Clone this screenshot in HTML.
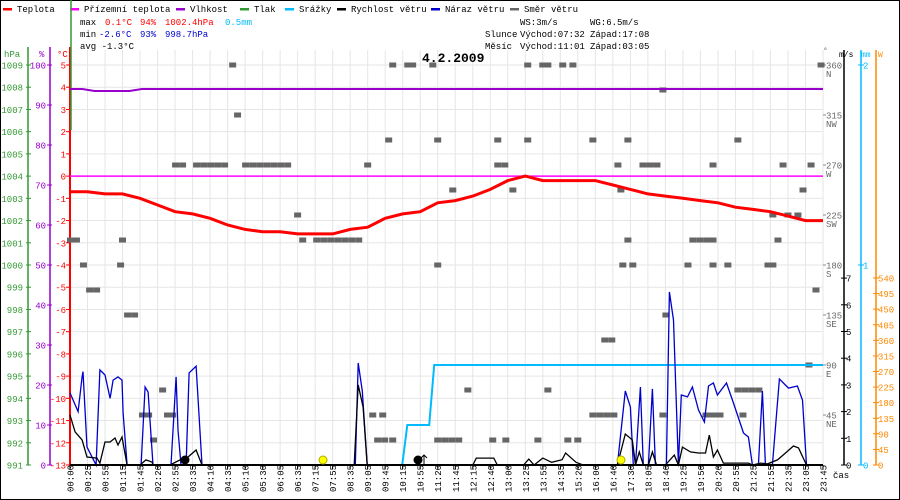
<!DOCTYPE html>
<html><head><meta charset="utf-8"><style>
html,body{margin:0;padding:0;background:#fff;}
svg{display:block;font-family:"Liberation Mono","DejaVu Sans Mono",monospace;}
</style></head><body>
<svg id="chart" width="900" height="500" viewBox="0 0 900 500" xmlns="http://www.w3.org/2000/svg">
<rect x="0.5" y="0.5" width="899" height="499" fill="#fff" stroke="#000"/>
<g id="grid"></g>
<g id="legend" font-size="9"></g>
<g font-size="9">
<text x="80" y="25" fill="#000">max</text><text x="105" y="25" fill="#f00">0.1°C</text><text x="140" y="25" fill="#f00">94%</text><text x="165" y="25" fill="#f00">1002.4hPa</text><text x="225" y="25" fill="#0bf">0.5mm</text>
<text x="80" y="37" fill="#000">min</text><text x="99" y="37" fill="#00c">-2.6°C</text><text x="140" y="37" fill="#00c">93%</text><text x="165" y="37" fill="#00c">998.7hPa</text>
<text x="80" y="49" fill="#000">avg -1.3°C</text>
<text x="520" y="25">WS:3m/s</text><text x="590" y="25">WG:6.5m/s</text>
<text x="485" y="37">Slunce</text><text x="520" y="37">Východ:07:32</text><text x="590" y="37">Západ:17:08</text>
<text x="485" y="49">Měsíc</text><text x="520" y="49">Východ:11:01</text><text x="590" y="49">Západ:03:05</text>
</g>
<text x="422" y="62" font-size="13" font-weight="bold">4.2.2009</text>
<g id="axes" font-size="9"></g>
<g id="series"></g>
<g id="xlabels" font-size="9"></g>
</svg>
<script>
const timeLabels=["00:00","00:25","00:55","01:15","01:45","02:20","02:55","03:35","04:10","04:35","05:10","05:30","06:05","06:35","07:15","07:55","08:35","09:05","09:45","10:15","10:55","11:20","11:45","12:15","12:40","13:00","13:25","13:55","14:35","15:20","16:00","16:40","17:30","18:05","18:40","19:25","19:50","20:20","20:55","21:25","21:55","22:35","23:05","23:45"];
const tempValues=[-0.7,-0.7,-0.8,-0.8,-1.0,-1.3,-1.6,-1.7,-1.9,-2.2,-2.4,-2.5,-2.5,-2.6,-2.6,-2.6,-2.4,-2.3,-1.9,-1.7,-1.6,-1.2,-1.1,-0.9,-0.6,-0.2,0.0,-0.2,-0.2,-0.2,-0.2,-0.4,-0.6,-0.8,-0.9,-1.0,-1.1,-1.2,-1.4,-1.5,-1.6,-1.8,-2.0,-2.0];
const humSlots=[0,0.7,1.4,3.4,4.1,43];
const humValues=[94,94,93.5,93.5,94,94];
const groundTemp=[0,0];
const rainSlots=[0,18.97,19.26,20.51,20.8,43];
const rainValues=[0,0,0.2,0.2,0.5,0.5];
const gustSlots=[0,0.46,0.69,0.74,0.97,1.49,1.71,2.0,2.29,2.46,2.74,2.97,3.03,3.26,4.06,4.29,4.46,4.74,5.77,6.06,6.17,6.34,6.63,6.8,7.2,7.54,16.29,16.46,16.69,16.97,31.26,31.71,32.0,32.17,32.29,32.57,32.74,33.03,33.26,33.43,34.06,34.23,34.46,34.74,34.91,35.26,35.54,35.89,36.23,36.46,36.74,36.97,37.49,37.89,38.46,38.74,38.97,39.31,39.54,39.71,40.11,40.51,41.03,41.54,41.83,42.06,43];
const gustValues=[2.7,2.0,3.3,3.5,0.67,0,3.56,3.37,2.5,3.18,3.3,3.18,1.95,0,0,2.92,2.73,0,0,3.3,1.31,0,0,3.45,3.7,0,0,3.82,2.77,0,0,2.77,2.17,0,0,2.92,0,0,2.85,0,0,6.48,5.43,0,2.62,2.55,2.92,2.06,1.61,2.96,3.07,2.62,3.07,2.32,1.2,1.05,0,0,2.77,0,0,3.22,2.88,2.96,2.43,0,0];
const windSlots=[0,0.29,0.69,0.97,1.54,1.71,2.0,2.29,2.57,2.74,2.97,3.26,4.0,4.34,4.69,4.74,5.71,6.29,6.74,7.2,7.54,16.23,16.46,16.74,16.97,23.0,23.2,24.2,24.4,25.9,26.2,26.5,27.0,27.5,28.1,28.3,28.9,29.3,31.26,31.71,32.11,32.29,32.51,32.74,33.03,33.26,33.49,34.0,34.51,34.74,34.97,35.43,35.89,36.29,36.51,36.74,36.97,37.31,38.74,38.97,39.43,39.83,40.4,40.86,41.31,41.6,42.06,43];
const windValues=[1.87,1.24,0.94,0.3,0.26,0.07,0.86,0.86,1.01,0.75,1.05,0,0,0.19,0.11,0,0,0.19,0.3,0.56,0,0,3.0,2.17,0,0,0.26,0.26,0,0,0.22,0,0.26,0.1,0.2,0.45,0.1,0,0,1.16,0.94,0,0.49,0,0,0.49,0,0,0.37,0,0.67,0.49,0.45,0.45,1.12,0.3,0.56,0.07,0.07,0,0.07,0.04,0.19,0.45,0.71,0.64,0,0];
const dirSlots=[9.26,9.54,18.4,19.26,19.54,20.69,26.11,26.97,27.26,28.11,28.69,42.86,33.83,18.17,20.97,24.4,26.11,29.83,31.83,38.11,6,6.4,7.2,7.6,8,8.4,8.8,10,10.4,10.8,11.2,11.6,12,12.4,16.97,24.4,24.8,31.26,32.69,33.09,33.49,36.69,40.69,42.29,21.83,25.26,31.43,41.83,12.97,40.11,40.97,41.54,0,0.34,2.97,13.26,14.06,14.46,14.86,15.26,15.66,16.06,16.46,31.83,35.54,35.94,36.34,36.69,40.4,0.74,2.86,20.97,31.54,32.11,35.26,36.69,37.54,39.83,40.11,1.09,1.49,42.57,3.26,3.66,34.0,30.51,30.91,42.17,5.26,22.69,27.26,38.11,38.51,38.91,39.31,4.11,4.46,5.54,5.83,17.26,17.83,29.83,30.23,30.63,31.03,33.83,36.29,36.69,37.09,38.4,4.74,17.54,17.94,18.4,20.97,21.37,21.77,22.17,24.11,24.86,26.69,28.4,28.97];
const dirValues=[360,315,360,360,360,360,360,360,360,360,360,360,337.5,292.5,292.5,292.5,292.5,292.5,292.5,292.5,270,270,270,270,270,270,270,270,270,270,270,270,270,270,270,270,270,270,270,270,270,270,270,270,247.5,247.5,247.5,247.5,225,225,225,225,202.5,202.5,202.5,202.5,202.5,202.5,202.5,202.5,202.5,202.5,202.5,202.5,202.5,202.5,202.5,202.5,202.5,180,180,180,180,180,180,180,180,180,180,157.5,157.5,157.5,135,135,135,112.5,112.5,90,67.5,67.5,67.5,67.5,67.5,67.5,67.5,45,45,45,45,45,45,45,45,45,45,45,45,45,45,45,22.5,22.5,22.5,22.5,22.5,22.5,22.5,22.5,22.5,22.5,22.5,22.5,22.5];
const tempTicks=[5,4,3,2,1,0,-1,-2,-3,-4,-5,-6,-7,-8,-9,-10,-11,-12,-13];
const hpaTicks=[1009,1008,1007,1006,1005,1004,1003,1002,1001,1000,999,998,997,996,995,994,993,992,991];
const humTicks=[100,90,80,70,60,50,40,30,20,10,0];
const dirTicks=[360,315,270,225,180,135,90,45];
const dirNames=["N","NW","W","SW","S","SE","E","NE"];
const msTicks=[0,1,2,3,4,5,6,7];
const mmTicks=[0,1,2];
const wTicks=[0,45,90,135,180,225,270,315,360,405,450,495,540];

const NS='http://www.w3.org/2000/svg';
const X0=70,X1=823,Y0=65,Y1=465;
const xS=s=>X0+s*(X1-X0)/(timeLabels.length-1);
const yT=t=>Y0+(5-t)*(Y1-Y0)/18;
const yP=p=>Y0+(1009-p)*(Y1-Y0)/18;
const yH=h=>Y0+(100-h)*(Y1-Y0)/100;
const yD=d=>Y1-d*(Y1-Y0)/360;
const yMS=v=>Y1-v*26.7;
const yMM=v=>Y1-v*(Y1-Y0)/2;
const yW=v=>Y1-v*(187/540);
function mk(tag,attrs,parent,txt){const e=document.createElementNS(NS,tag);for(const k in attrs)e.setAttribute(k,attrs[k]);if(txt!==undefined)e.textContent=txt;parent.appendChild(e);return e;}
const grid=document.getElementById('grid'),axes=document.getElementById('axes'),series=document.getElementById('series'),xl=document.getElementById('xlabels'),legend=document.getElementById('legend');

timeLabels.forEach((l,i)=>{const x=xS(i);
 const g=mk('line',{x1:x,x2:x,y1:Y0-15,y2:Y1,stroke:'#e6e6e6'},grid);
 
 const tk=mk('line',{x1:x,x2:x,y1:Y1,y2:Y1+4,stroke:'#000'},axes);
 
 const t=mk('text',{x:0,y:0,transform:`translate(${x+3.5},492) rotate(-90)`,fill:'#000'},xl,l);
 
});
tempTicks.forEach(t=>{const y=yT(t);
 const g=mk('line',{x1:X0,x2:X1,y1:y,y2:y,stroke:'#e6e6e6'},grid);
 
 mk('line',{x1:X0-4,x2:X0,y1:y,y2:y,stroke:'#f00'},axes);
 const tx=mk('text',{x:X0-4,y:y+3.5,'text-anchor':'end',fill:'#f00'},axes,String(t));
 
});
hpaTicks.forEach(p=>{const y=yP(p);
 mk('line',{x1:26,x2:31,y1:y,y2:y,stroke:'#393'},axes);
 const tx=mk('text',{x:23,y:y+3.5,'text-anchor':'end',fill:'#393'},axes,String(p));
 
});
humTicks.forEach(h=>{const y=yH(h);
 mk('line',{x1:47,x2:52,y1:y,y2:y,stroke:'#90c'},axes);
 const tx=mk('text',{x:46,y:y+3.5,'text-anchor':'end',fill:'#90c'},axes,String(h));
 
});
dirTicks.forEach((d,i)=>{const y=yD(d);
 mk('line',{x1:823,x2:826,y1:y,y2:y,stroke:'#888'},axes);
 const tx=mk('text',{x:826,y:y+3.5,fill:'#666'},axes,String(d));
 
 const tn=mk('text',{x:826,y:y+12,fill:'#666'},axes,dirNames[i]);
 
});
msTicks.forEach(v=>{const y=yMS(v);
 mk('line',{x1:841,x2:847,y1:y,y2:y,stroke:'#000'},axes);
 const tx=mk('text',{x:846,y:y+3.5,fill:'#000'},axes,String(v));
 
});
mmTicks.forEach(v=>{const y=yMM(v);
 mk('line',{x1:858,x2:864,y1:y,y2:y,stroke:'#0bf'},axes);
 const tx=mk('text',{x:863,y:y+3.5,fill:'#0bf'},axes,String(v));
 
});
wTicks.forEach(v=>{const y=yW(v);
 mk('line',{x1:873,x2:879,y1:y,y2:y,stroke:'#f80'},axes);
 const tx=mk('text',{x:878,y:y+3.5,fill:'#f80'},axes,String(v));
 
});
[[28,'#393','hPa',4],[50,'#90c','%',39],[70,'#f00','°C',57]].forEach(([x,c,u,ux])=>{
 const l=mk('line',{x1:x,x2:x,y1:47,y2:Y1,stroke:c,'stroke-width':x===70?2:1.5},axes);
 
 const t=mk('text',{x:ux,y:57,fill:c},axes,u);
 
});
mk('line',{x1:71,x2:71,y1:0,y2:130,stroke:'#393','stroke-width':1.5},axes);
[[844,'#000','m/s',839],[861,'#0bf','mm',861],[876,'#f80','W',878]].forEach(([x,c,u,ux])=>{
 const l=mk('line',{x1:x,x2:x,y1:50,y2:Y1,stroke:c,'stroke-width':1.5},axes);
 
 const t=mk('text',{x:ux,y:57,fill:c,'font-size':8},axes,u);
 
});
const du=mk('text',{x:823,y:53,fill:'#666','font-size':8},axes,'°');
const cs=mk('text',{x:833,y:478,fill:'#000'},axes,'čas');

const pts=(xs,ys,fy)=>xs.map((s,i)=>xS(s).toFixed(1)+','+fy(ys[i]).toFixed(1)).join(' ');
const dirG=mk('g',{fill:'#666'},series);
dirSlots.forEach((s,i)=>{const r=mk('rect',{x:xS(s)-3,y:yD(dirValues[i])-2.5,width:7,height:5},dirG);
 });
const gl=mk('line',{x1:X0,x2:X1,y1:yT(groundTemp[0]),y2:yT(groundTemp[1]),stroke:'#f0f','stroke-width':1.5},series);

const hl=mk('polyline',{points:pts(humSlots,humValues,yH),fill:'none',stroke:'#90c','stroke-width':2},series);

const rl=mk('polyline',{points:pts(rainSlots,rainValues,yMM),fill:'none',stroke:'#0bf','stroke-width':2},series);

const gu=mk('polyline',{points:pts(gustSlots,gustValues,yMS),fill:'none',stroke:'#00c','stroke-width':1.3},series);

const wl=mk('polyline',{points:pts(windSlots,windValues,yMS),fill:'none',stroke:'#000','stroke-width':1.3},series);

const tl=mk('polyline',{points:pts(tempValues.map((v,i)=>i),tempValues,yT),fill:'none',stroke:'#f00','stroke-width':3},series);

const bl=mk('line',{x1:X0,x2:X1,y1:Y1,y2:Y1,stroke:'#000','stroke-width':2},series);

[[323,'#ff0','sunrise-marker'],[621,'#ff0','sunset-marker'],[185,'#000','moonset-marker'],[418,'#000','moonrise-marker']].forEach(([x,c,n])=>{
 const e=mk('circle',{cx:x,cy:460,r:4,fill:c,stroke:c==='#000'?'#000':'#aa0'},series);
 });
mk('path',{d:'M424 465 V455 M421 458 L424 455 L427 458',stroke:'#000',fill:'none'},series);

const leg=[['Teplota','#f00'],['Přízemní teplota','#f0f'],['Vlhkost','#90c'],['Tlak','#393'],['Srážky','#0bf'],['Rychlost větru','#000'],['Náraz větru','#00c'],['Směr větru','#666']];
const lx=[3,70,176,240,285,337,431,510];
leg.forEach(([n,c],i)=>{const g=mk('g',{},legend);
 
 mk('rect',{x:lx[i],y:8,width:9,height:2.5,fill:c},g);
 mk('text',{x:lx[i]+14,y:12,fill:'#000'},g,n);});
</script>
</body></html>
